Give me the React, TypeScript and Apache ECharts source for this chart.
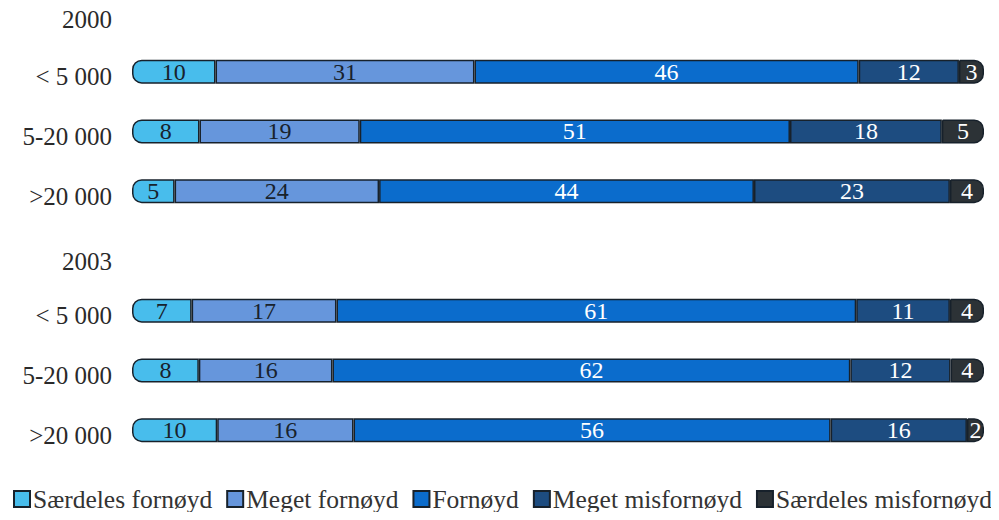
import React, { useEffect, useRef } from "react";
import * as echarts from "echarts";

// Row labels, top to bottom: a year header followed by municipality size groups
const categories = ["2000", "< 5 000", "5-20 000", ">20 000", "2003", "< 5 000", "5-20 000", ">20 000"];
const headerRows = [0, 4];

const seriesNames = ["Særdeles fornøyd", "Meget fornøyd", "Fornøyd", "Meget misfornøyd", "Særdeles misfornøyd"];

// Reported answers per row (null for the year header rows)
const saerdelesFornoyd = [null, 10, 8, 5, null, 7, 8, 10];
const megetFornoyd = [null, 31, 19, 24, null, 17, 16, 16];
const fornoyd = [null, 46, 51, 44, null, 61, 62, 56];
const megetMisfornoyd = [null, 12, 18, 23, null, 11, 12, 16];
const saerdelesMisfornoyd = [null, 3, 5, 4, null, 4, 4, 2];

const colors = ["#48bdec", "#6696dc", "#0b6ccc", "#1d4c80", "#2c3236"];
const labelColors = ["#18222c", "#18222c", "#ffffff", "#ffffff", "#ffffff"];

const FONT = "'Liberation Serif', 'DejaVu Serif', serif";

// The canvas is taller than the window and shifted up, so the first
// (header) row can sit partly above the visible top edge.
const SHIFT = 18;

export default function App() {
  const ref = useRef<HTMLDivElement>(null);

  useEffect(() => {
    if (!ref.current) return;
    const chart = echarts.init(ref.current, null, { renderer: "svg" });

    const raw = [saerdelesFornoyd, megetFornoyd, fornoyd, megetMisfornoyd, saerdelesMisfornoyd];
    // Each row is shown as a 100 % stacked bar; labels keep the reported figure
    const totals = categories.map((_, i) =>
      raw.reduce((s, arr) => s + (arr[i] ?? 0), 0)
    );

    const series = raw.map((arr, si) => ({
      name: seriesNames[si],
      type: "bar",
      stack: "total",
      barWidth: 24,
      data: arr.map((v, i) =>
        v == null ? "-" : { value: (v / totals[i]) * 100, raw: v }
      ),
      itemStyle: {
        color: colors[si],
        borderColor: "#17212b",
        borderWidth: 1.5,
        borderRadius: si === 0 ? [9, 0, 0, 9] : si === raw.length - 1 ? [0, 9, 9, 0] : 0,
      },
      label: {
        show: true,
        position: "inside",
        formatter: (p: any) => String(p.data.raw),
        color: labelColors[si],
        fontFamily: FONT,
        fontSize: 24,
        padding: [6, 0, 0, 0],
      },
    }));

    chart.setOption({
      animation: false,
      backgroundColor: "#ffffff",
      grid: { left: 132, right: 15, top: 0, bottom: 60, containLabel: false },
      xAxis: {
        type: "value",
        min: 0,
        max: 100,
        show: false,
      },
      yAxis: {
        type: "category",
        inverse: true,
        data: categories,
        axisLine: { show: false },
        axisTick: { show: false },
        axisLabel: {
          margin: 20,
          fontFamily: FONT,
          fontSize: 25,
          color: "#2a2a2a",
          formatter: (value: string, index: number) =>
            headerRows.includes(index)
              ? index === 0
                ? `{h0|${value}}`
                : `{h1|${value}}`
              : `{r|${value}}`,
          rich: {
            h0: { fontFamily: FONT, fontSize: 25, color: "#2a2a2a", padding: [16, 0, 0, 0] },
            h1: { fontFamily: FONT, fontSize: 25, color: "#2a2a2a", padding: [22, 0, 0, 0] },
            r: { fontFamily: FONT, fontSize: 25, color: "#2a2a2a", padding: [10, 0, 0, 0] },
          },
        },
      },
      legend: {
        data: seriesNames,
        left: 8,
        top: 481 + SHIFT,
        width: 990,
        itemWidth: 16,
        itemHeight: 16,
        itemGap: 14,
        icon: "rect",
        textStyle: { fontFamily: FONT, fontSize: 25.5, color: "#333333", padding: [0, 0, 0, -2] },
      },
      series,
    });

    return () => chart.dispose();
  }, []);

  return (
    <div
      ref={ref}
      style={{ width: 999, height: 520 + SHIFT, margin: -8, marginTop: -8 - SHIFT }}
    />
  );
}
